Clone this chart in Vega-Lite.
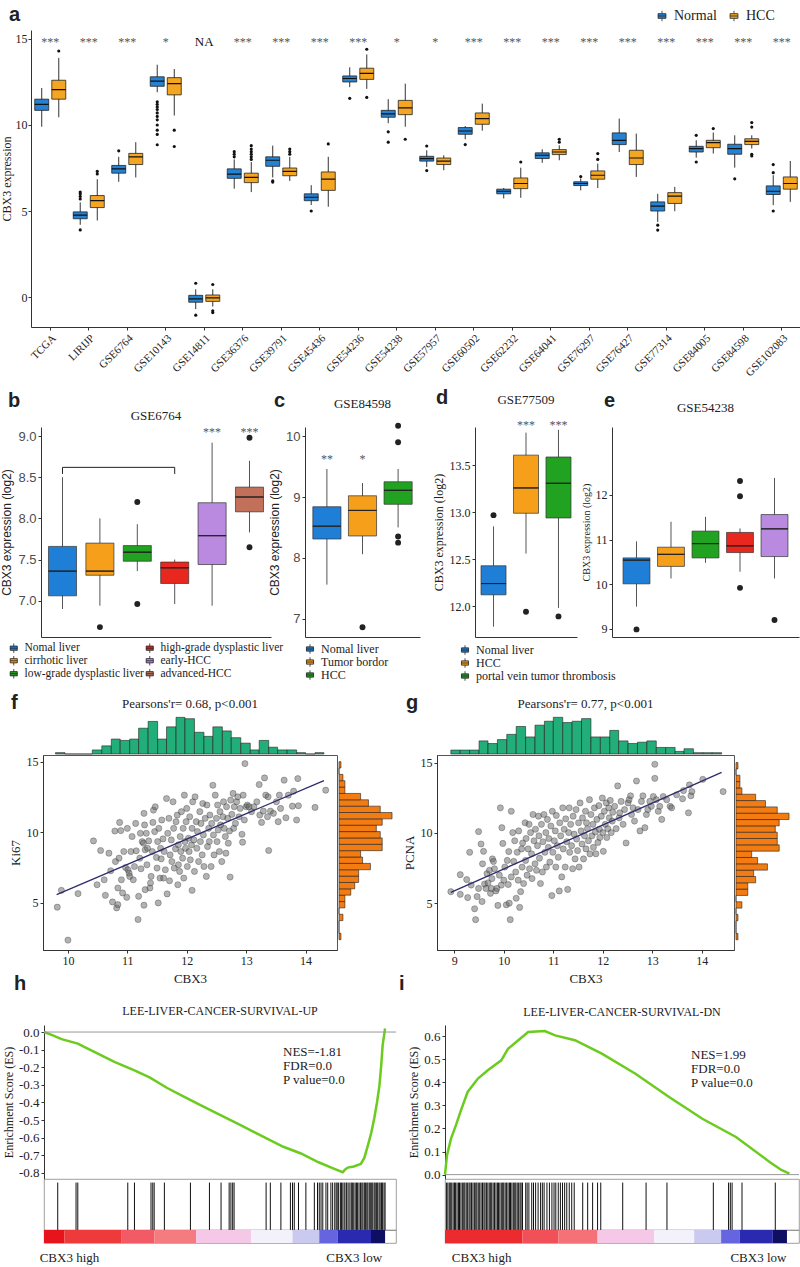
{
"$schema":"https://vega.github.io/schema/vega-lite/v6.json",
"background":"white",
"padding":{"left":0,"top":5,"right":0,"bottom":0},
"spacing":10,
"resolve":{"scale":{"color":"independent"},"legend":{"color":"independent"}},
"config":{
 "font":"Liberation Serif",
 "view":{"stroke":null},
 "axis":{"labelFont":"Liberation Serif","titleFont":"Liberation Serif","labelColor":"#222","titleColor":"#222","domainColor":"#333","tickColor":"#333","grid":false,"titleFontWeight":"normal","labelFontSize":12,"titleFontSize":12,"tickSize":3,"labelPadding":2,"titlePadding":4},
 "title":{"font":"Liberation Serif","fontWeight":"normal","fontSize":13,"color":"#222"},
 "legend":{"labelFont":"Liberation Serif","labelFontSize":12,"labelColor":"#222","symbolStrokeColor":"#222","symbolStrokeWidth":0.8,"symbolType":"M-0.75,-0.45H0.75V0.45H-0.75Z M0,-0.45V-1 M0,0.45V1 M-0.75,0H0.75","symbolSize":90,"rowPadding":-3,"labelOffset":5,"padding":0}
},
"datasets":{
 "aBox":[
{"d":"TCGA","g":"Normal","lo":9.9,"q1":10.85,"md":11.2,"q3":11.5,"hi":12.15},
{"d":"TCGA","g":"HCC","lo":10.45,"q1":11.5,"md":12.05,"q3":12.6,"hi":13.9},
{"d":"LIRIJP","g":"Normal","lo":4.2,"q1":4.55,"md":4.76,"q3":4.95,"hi":5.5},
{"d":"LIRIJP","g":"HCC","lo":4.45,"q1":5.2,"md":5.6,"q3":5.9,"hi":6.85},
{"d":"GSE6764","g":"Normal","lo":6.7,"q1":7.2,"md":7.45,"q3":7.65,"hi":8.15},
{"d":"GSE6764","g":"HCC","lo":6.95,"q1":7.7,"md":8.15,"q3":8.35,"hi":9.0},
{"d":"GSE10143","g":"Normal","lo":11.9,"q1":12.25,"md":12.55,"q3":12.8,"hi":13.5},
{"d":"GSE10143","g":"HCC","lo":10.55,"q1":11.75,"md":12.4,"q3":12.75,"hi":13.25},
{"d":"GSE14811","g":"Normal","lo":-0.7,"q1":-0.3,"md":-0.1,"q3":0.1,"hi":0.45},
{"d":"GSE14811","g":"HCC","lo":-0.55,"q1":-0.25,"md":-0.05,"q3":0.12,"hi":0.45},
{"d":"GSE36376","g":"Normal","lo":6.3,"q1":6.9,"md":7.15,"q3":7.45,"hi":8.0},
{"d":"GSE36376","g":"HCC","lo":6.1,"q1":6.65,"md":6.95,"q3":7.2,"hi":7.85},
{"d":"GSE39791","g":"Normal","lo":6.95,"q1":7.6,"md":7.95,"q3":8.15,"hi":8.8},
{"d":"GSE39791","g":"HCC","lo":6.75,"q1":7.05,"md":7.3,"q3":7.5,"hi":8.15},
{"d":"GSE45436","g":"Normal","lo":5.35,"q1":5.6,"md":5.8,"q3":6.0,"hi":6.5},
{"d":"GSE45436","g":"HCC","lo":5.25,"q1":6.2,"md":6.85,"q3":7.27,"hi":8.15},
{"d":"GSE54236","g":"Normal","lo":12.2,"q1":12.5,"md":12.7,"q3":12.85,"hi":13.35},
{"d":"GSE54236","g":"HCC","lo":12.1,"q1":12.65,"md":13.0,"q3":13.3,"hi":14.1},
{"d":"GSE54238","g":"Normal","lo":10.1,"q1":10.45,"md":10.65,"q3":10.85,"hi":11.5},
{"d":"GSE54238","g":"HCC","lo":9.9,"q1":10.6,"md":11.0,"q3":11.43,"hi":12.4},
{"d":"GSE57957","g":"Normal","lo":7.56,"q1":7.9,"md":8.05,"q3":8.18,"hi":8.53},
{"d":"GSE57957","g":"HCC","lo":7.37,"q1":7.7,"md":7.9,"q3":8.08,"hi":8.24},
{"d":"GSE60502","g":"Normal","lo":9.17,"q1":9.46,"md":9.65,"q3":9.85,"hi":9.94},
{"d":"GSE60502","g":"HCC","lo":9.67,"q1":10.04,"md":10.37,"q3":10.7,"hi":11.24},
{"d":"GSE62232","g":"Normal","lo":5.73,"q1":6.0,"md":6.15,"q3":6.27,"hi":6.34},
{"d":"GSE62232","g":"HCC","lo":5.77,"q1":6.3,"md":6.6,"q3":6.92,"hi":7.52},
{"d":"GSE64041","g":"Normal","lo":7.8,"q1":8.05,"md":8.24,"q3":8.38,"hi":8.59},
{"d":"GSE64041","g":"HCC","lo":7.95,"q1":8.28,"md":8.43,"q3":8.57,"hi":8.82},
{"d":"GSE76297","g":"Normal","lo":6.2,"q1":6.48,"md":6.6,"q3":6.7,"hi":6.89},
{"d":"GSE76297","g":"HCC","lo":6.34,"q1":6.85,"md":7.08,"q3":7.33,"hi":7.76},
{"d":"GSE76427","g":"Normal","lo":8.43,"q1":8.86,"md":9.11,"q3":9.54,"hi":10.37},
{"d":"GSE76427","g":"HCC","lo":6.98,"q1":7.7,"md":8.08,"q3":8.53,"hi":9.5},
{"d":"GSE77314","g":"Normal","lo":4.37,"q1":5.0,"md":5.28,"q3":5.53,"hi":6.0},
{"d":"GSE77314","g":"HCC","lo":4.99,"q1":5.44,"md":5.86,"q3":6.07,"hi":6.4},
{"d":"GSE84005","g":"Normal","lo":8.1,"q1":8.43,"md":8.63,"q3":8.76,"hi":9.11},
{"d":"GSE84005","g":"HCC","lo":8.34,"q1":8.68,"md":8.97,"q3":9.11,"hi":9.56},
{"d":"GSE84598","g":"Normal","lo":7.52,"q1":8.3,"md":8.63,"q3":8.88,"hi":9.4},
{"d":"GSE84598","g":"HCC","lo":8.63,"q1":8.86,"md":9.05,"q3":9.2,"hi":9.4},
{"d":"GSE102083","g":"Normal","lo":5.34,"q1":5.96,"md":6.15,"q3":6.46,"hi":7.08},
{"d":"GSE102083","g":"HCC","lo":5.53,"q1":6.27,"md":6.6,"q3":6.98,"hi":7.91}
 ],
 "aOut":[
{"d":"TCGA","g":"HCC","v":14.3},
{"d":"LIRIJP","g":"Normal","v":5.7},{"d":"LIRIJP","g":"Normal","v":5.85},{"d":"LIRIJP","g":"Normal","v":6.0},{"d":"LIRIJP","g":"Normal","v":6.1},{"d":"LIRIJP","g":"Normal","v":3.9},
{"d":"LIRIJP","g":"HCC","v":7.15},{"d":"LIRIJP","g":"HCC","v":7.3},
{"d":"GSE6764","g":"Normal","v":8.5},
{"d":"GSE10143","g":"Normal","v":11.35},{"d":"GSE10143","g":"Normal","v":11.2},{"d":"GSE10143","g":"Normal","v":11.05},{"d":"GSE10143","g":"Normal","v":10.9},{"d":"GSE10143","g":"Normal","v":10.7},{"d":"GSE10143","g":"Normal","v":10.5},{"d":"GSE10143","g":"Normal","v":10.3},{"d":"GSE10143","g":"Normal","v":10.0},{"d":"GSE10143","g":"Normal","v":9.7},{"d":"GSE10143","g":"Normal","v":9.45},{"d":"GSE10143","g":"Normal","v":8.85},
{"d":"GSE10143","g":"HCC","v":9.7},{"d":"GSE10143","g":"HCC","v":8.75},
{"d":"GSE14811","g":"Normal","v":0.8},{"d":"GSE14811","g":"Normal","v":-1.05},
{"d":"GSE14811","g":"HCC","v":0.73},{"d":"GSE14811","g":"HCC","v":-0.8},{"d":"GSE14811","g":"HCC","v":-0.9},
{"d":"GSE36376","g":"Normal","v":8.15},{"d":"GSE36376","g":"Normal","v":8.3},{"d":"GSE36376","g":"Normal","v":8.45},
{"d":"GSE36376","g":"HCC","v":8.0},{"d":"GSE36376","g":"HCC","v":8.15},{"d":"GSE36376","g":"HCC","v":8.3},{"d":"GSE36376","g":"HCC","v":8.45},{"d":"GSE36376","g":"HCC","v":8.6},{"d":"GSE36376","g":"HCC","v":8.8},
{"d":"GSE39791","g":"Normal","v":6.75},{"d":"GSE39791","g":"Normal","v":6.68},
{"d":"GSE39791","g":"HCC","v":8.3},{"d":"GSE39791","g":"HCC","v":8.45},{"d":"GSE39791","g":"HCC","v":8.6},
{"d":"GSE45436","g":"Normal","v":5.0},
{"d":"GSE45436","g":"HCC","v":8.9},
{"d":"GSE54236","g":"Normal","v":11.55},
{"d":"GSE54236","g":"HCC","v":14.4},{"d":"GSE54236","g":"HCC","v":11.6},
{"d":"GSE54238","g":"Normal","v":9.6},{"d":"GSE54238","g":"Normal","v":9.0},
{"d":"GSE54238","g":"HCC","v":9.17},
{"d":"GSE57957","g":"Normal","v":8.78},{"d":"GSE57957","g":"Normal","v":7.35},
{"d":"GSE60502","g":"Normal","v":8.86},
{"d":"GSE62232","g":"HCC","v":7.85},
{"d":"GSE64041","g":"HCC","v":9.0},{"d":"GSE64041","g":"HCC","v":9.17},
{"d":"GSE76297","g":"Normal","v":7.0},
{"d":"GSE76297","g":"HCC","v":8.0},{"d":"GSE76297","g":"HCC","v":8.34},
{"d":"GSE77314","g":"Normal","v":4.18},{"d":"GSE77314","g":"Normal","v":3.89},
{"d":"GSE84005","g":"Normal","v":9.4},{"d":"GSE84005","g":"Normal","v":7.85},
{"d":"GSE84005","g":"HCC","v":9.79},
{"d":"GSE84598","g":"Normal","v":6.87},
{"d":"GSE84598","g":"HCC","v":10.14},{"d":"GSE84598","g":"HCC","v":9.88},{"d":"GSE84598","g":"HCC","v":8.3},{"d":"GSE84598","g":"HCC","v":8.2},
{"d":"GSE102083","g":"Normal","v":7.23},{"d":"GSE102083","g":"Normal","v":7.7},{"d":"GSE102083","g":"Normal","v":5.0}
 ],
 "aSig":[
{"d":"TCGA","s":"***"},{"d":"LIRIJP","s":"***"},{"d":"GSE6764","s":"***"},{"d":"GSE10143","s":"*"},{"d":"GSE14811","s":"NA"},{"d":"GSE36376","s":"***"},{"d":"GSE39791","s":"***"},{"d":"GSE45436","s":"***"},{"d":"GSE54236","s":"***"},{"d":"GSE54238","s":"*"},{"d":"GSE57957","s":"*"},{"d":"GSE60502","s":"***"},{"d":"GSE62232","s":"***"},{"d":"GSE64041","s":"***"},{"d":"GSE76297","s":"***"},{"d":"GSE76427","s":"***"},{"d":"GSE77314","s":"***"},{"d":"GSE84005","s":"***"},{"d":"GSE84598","s":"***"},{"d":"GSE102083","s":"***"}
 ],
 "bBox":[
{"grp":"Nomal liver","lo":6.9,"q1":7.06,"md":7.36,"q3":7.66,"hi":8.5},
{"grp":"cirrhotic liver","lo":6.94,"q1":7.31,"md":7.36,"q3":7.7,"hi":8.0},
{"grp":"low-grade dysplastic liver","lo":7.36,"q1":7.48,"md":7.59,"q3":7.67,"hi":7.93},
{"grp":"high-grade dysplastic liver","lo":6.96,"q1":7.21,"md":7.4,"q3":7.47,"hi":7.5},
{"grp":"early-HCC","lo":6.94,"q1":7.44,"md":7.79,"q3":8.19,"hi":8.92},
{"grp":"advanced-HCC","lo":7.83,"q1":8.08,"md":8.26,"q3":8.38,"hi":8.7}
 ],
 "bOut":[{"grp":"cirrhotic liver","v":6.68},{"grp":"low-grade dysplastic liver","v":8.2},{"grp":"low-grade dysplastic liver","v":6.96},{"grp":"advanced-HCC","v":8.98},{"grp":"advanced-HCC","v":7.65}],
 "bSig":[{"grp":"early-HCC","s":"***"},{"grp":"advanced-HCC","s":"***"}],
 "cBox":[
{"grp":"Nomal liver","lo":7.56,"q1":8.31,"md":8.52,"q3":8.84,"hi":9.46},
{"grp":"Tumor bordor","lo":8.06,"q1":8.36,"md":8.78,"q3":9.02,"hi":9.23},
{"grp":"HCC","lo":8.5,"q1":8.88,"md":9.11,"q3":9.25,"hi":9.46}
 ],
 "cOut":[{"grp":"Tumor bordor","v":6.86},{"grp":"HCC","v":10.17},{"grp":"HCC","v":9.9},{"grp":"HCC","v":8.35},{"grp":"HCC","v":8.25}],
 "cSig":[{"grp":"Nomal liver","s":"**"},{"grp":"Tumor bordor","s":"*"}],
 "dBox":[
{"grp":"Nomal liver","lo":11.78,"q1":12.12,"md":12.24,"q3":12.43,"hi":12.85},
{"grp":"HCC","lo":12.56,"q1":12.99,"md":13.26,"q3":13.61,"hi":13.85},
{"grp":"portal vein tumor thrombosis","lo":11.98,"q1":12.94,"md":13.31,"q3":13.59,"hi":13.88}
 ],
 "dOut":[{"grp":"Nomal liver","v":12.97},{"grp":"HCC","v":11.94},{"grp":"portal vein tumor thrombosis","v":11.89}],
 "dSig":[{"grp":"HCC","s":"***"},{"grp":"portal vein tumor thrombosis","s":"***"}],
 "eBox":[
{"grp":"Nomal liver","lo":9.5,"q1":10.01,"md":10.54,"q3":10.59,"hi":10.96},
{"grp":"cirrhotic liver","lo":10.13,"q1":10.4,"md":10.67,"q3":10.83,"hi":11.4},
{"grp":"low-grade dysplastic liver","lo":10.48,"q1":10.59,"md":10.91,"q3":11.19,"hi":11.51},
{"grp":"high-grade dysplastic liver","lo":10.28,"q1":10.71,"md":10.86,"q3":11.16,"hi":11.25},
{"grp":"HCC","lo":10.13,"q1":10.62,"md":11.24,"q3":11.56,"hi":12.38}
 ],
 "eOut":[{"grp":"Nomal liver","v":8.99},{"grp":"high-grade dysplastic liver","v":12.31},{"grp":"high-grade dysplastic liver","v":11.97},{"grp":"high-grade dysplastic liver","v":9.92},{"grp":"HCC","v":9.2}],
 "fTop":[
{"s":9.79,"e":9.95,"n":1},{"s":9.95,"e":10.1,"n":0},{"s":10.1,"e":10.26,"n":0},{"s":10.26,"e":10.41,"n":0},{"s":10.41,"e":10.57,"n":3},{"s":10.57,"e":10.73,"n":6},{"s":10.73,"e":10.88,"n":11},{"s":10.88,"e":11.04,"n":10},{"s":11.04,"e":11.19,"n":11},{"s":11.19,"e":11.35,"n":19},{"s":11.35,"e":11.51,"n":24},{"s":11.51,"e":11.66,"n":11},{"s":11.66,"e":11.82,"n":20},{"s":11.82,"e":11.97,"n":27},{"s":11.97,"e":12.13,"n":26},{"s":12.13,"e":12.29,"n":16},{"s":12.29,"e":12.44,"n":13},{"s":12.44,"e":12.6,"n":20},{"s":12.6,"e":12.75,"n":17},{"s":12.75,"e":12.91,"n":12},{"s":12.91,"e":13.07,"n":8},{"s":13.07,"e":13.22,"n":3},{"s":13.22,"e":13.38,"n":10},{"s":13.38,"e":13.53,"n":5},{"s":13.53,"e":13.69,"n":3},{"s":13.69,"e":13.85,"n":3},{"s":13.85,"e":14.0,"n":1},{"s":14.0,"e":14.16,"n":0},{"s":14.16,"e":14.31,"n":1}
 ],
 "fRh":[
{"s":2.4,"e":2.85,"n":1},{"s":2.85,"e":3.3,"n":0},{"s":3.3,"e":3.75,"n":0},{"s":3.75,"e":4.2,"n":2},{"s":4.2,"e":4.65,"n":0},{"s":4.65,"e":5.1,"n":3},{"s":5.1,"e":5.55,"n":3},{"s":5.55,"e":6.0,"n":6},{"s":6.0,"e":6.45,"n":8},{"s":6.45,"e":6.9,"n":10},{"s":6.9,"e":7.35,"n":10},{"s":7.35,"e":7.8,"n":16},{"s":7.8,"e":8.25,"n":12},{"s":8.25,"e":8.7,"n":11},{"s":8.7,"e":9.15,"n":22},{"s":9.15,"e":9.6,"n":22},{"s":9.6,"e":10.05,"n":21},{"s":10.05,"e":10.5,"n":19},{"s":10.5,"e":10.95,"n":22},{"s":10.95,"e":11.4,"n":27},{"s":11.4,"e":11.85,"n":21},{"s":11.85,"e":12.3,"n":15},{"s":12.3,"e":12.75,"n":11},{"s":12.75,"e":13.2,"n":3},{"s":13.2,"e":13.65,"n":3},{"s":13.65,"e":14.1,"n":2},{"s":14.1,"e":14.55,"n":0},{"s":14.55,"e":15.0,"n":1}
 ],
 "gTop":[
{"s":8.93,"e":9.12,"n":3},{"s":9.12,"e":9.31,"n":3},{"s":9.31,"e":9.5,"n":3},{"s":9.5,"e":9.68,"n":10},{"s":9.68,"e":9.87,"n":8},{"s":9.87,"e":10.06,"n":11},{"s":10.06,"e":10.25,"n":15},{"s":10.25,"e":10.44,"n":21},{"s":10.44,"e":10.63,"n":13},{"s":10.63,"e":10.82,"n":22},{"s":10.82,"e":11.0,"n":25},{"s":11.0,"e":11.19,"n":28},{"s":11.19,"e":11.38,"n":24},{"s":11.38,"e":11.57,"n":25},{"s":11.57,"e":11.76,"n":27},{"s":11.76,"e":11.95,"n":13},{"s":11.95,"e":12.14,"n":13},{"s":12.14,"e":12.32,"n":18},{"s":12.32,"e":12.51,"n":10},{"s":12.51,"e":12.7,"n":8},{"s":12.7,"e":12.89,"n":9},{"s":12.89,"e":13.08,"n":10},{"s":13.08,"e":13.27,"n":5},{"s":13.27,"e":13.46,"n":5},{"s":13.46,"e":13.64,"n":2},{"s":13.64,"e":13.83,"n":4},{"s":13.83,"e":14.02,"n":1},{"s":14.02,"e":14.21,"n":1},{"s":14.21,"e":14.4,"n":1}
 ],
 "gRh":[
{"s":2.4,"e":2.85,"n":1},{"s":2.85,"e":3.3,"n":0},{"s":3.3,"e":3.75,"n":0},{"s":3.75,"e":4.2,"n":1},{"s":4.2,"e":4.65,"n":0},{"s":4.65,"e":5.1,"n":3},{"s":5.1,"e":5.55,"n":0},{"s":5.55,"e":6.0,"n":6},{"s":6.0,"e":6.45,"n":6},{"s":6.45,"e":6.9,"n":10},{"s":6.9,"e":7.35,"n":9},{"s":7.35,"e":7.8,"n":16},{"s":7.8,"e":8.25,"n":11},{"s":8.25,"e":8.7,"n":8},{"s":8.7,"e":9.15,"n":22},{"s":9.15,"e":9.6,"n":21},{"s":9.6,"e":10.05,"n":21},{"s":10.05,"e":10.5,"n":20},{"s":10.5,"e":10.95,"n":22},{"s":10.95,"e":11.4,"n":27},{"s":11.4,"e":11.85,"n":21},{"s":11.85,"e":12.3,"n":15},{"s":12.3,"e":12.75,"n":10},{"s":12.75,"e":13.2,"n":3},{"s":13.2,"e":13.65,"n":2},{"s":13.65,"e":14.1,"n":2},{"s":14.1,"e":14.55,"n":0},{"s":14.55,"e":15.0,"n":1}
 ],
 "fLine":[{"c":9.81,"k":5.59},{"c":14.31,"k":13.66}],
 "gLine":[{"c":8.93,"p":5.77},{"c":14.4,"p":14.3}],
 "fPts":[
{"c":9.82,"k":4.7},{"c":10.0,"k":2.37},{"c":9.89,"k":5.89},{"c":10.17,"k":5.66},{"c":10.43,"k":9.39},{"c":10.49,"k":6.29},{"c":10.55,"k":8.71},{"c":10.61,"k":6.64},{"c":10.63,"k":5.54},{"c":10.69,"k":8.52},{"c":10.72,"k":7.28},{"c":10.75,"k":5.07},{"c":10.79,"k":10.09},{"c":10.8,"k":7.93},{"c":10.82,"k":4.65},{"c":10.84,"k":4.88},{"c":10.84,"k":6.06},{"c":10.86,"k":8.17},{"c":10.87,"k":10.7},{"c":10.89,"k":10.12},{"c":10.9,"k":6.64},{"c":10.92,"k":5.71},{"c":10.94,"k":8.64},{"c":10.97,"k":7.51},{"c":10.99,"k":5.4},{"c":11.0,"k":10.28},{"c":11.01,"k":7.35},{"c":11.03,"k":7.11},{"c":11.04,"k":6.88},{"c":11.06,"k":8.64},{"c":11.08,"k":9.7},{"c":11.1,"k":6.64},{"c":11.12,"k":7.58},{"c":11.14,"k":10.63},{"c":11.15,"k":8.69},{"c":11.18,"k":3.83},{"c":11.19,"k":5.47},{"c":11.21,"k":8.17},{"c":11.22,"k":9.93},{"c":11.23,"k":7.42},{"c":11.25,"k":9.34},{"c":11.27,"k":9.23},{"c":11.28,"k":4.84},{"c":11.28,"k":11.34},{"c":11.29,"k":10.52},{"c":11.3,"k":8.76},{"c":11.3,"k":5.94},{"c":11.32,"k":9.93},{"c":11.33,"k":7.7},{"c":11.34,"k":8.87},{"c":11.36,"k":9.39},{"c":11.38,"k":6.06},{"c":11.39,"k":6.41},{"c":11.4,"k":6.88},{"c":11.42,"k":8.64},{"c":11.43,"k":10.7},{"c":11.44,"k":11.57},{"c":11.46,"k":10.05},{"c":11.47,"k":11.81},{"c":11.49,"k":8.22},{"c":11.5,"k":7.47},{"c":11.51,"k":9.34},{"c":11.52,"k":5.0},{"c":11.53,"k":10.28},{"c":11.55,"k":6.76},{"c":11.56,"k":8.87},{"c":11.57,"k":8.12},{"c":11.58,"k":10.87},{"c":11.6,"k":9.53},{"c":11.61,"k":6.76},{"c":11.62,"k":8.64},{"c":11.64,"k":7.35},{"c":11.66,"k":12.39},{"c":11.67,"k":5.64},{"c":11.68,"k":9.93},{"c":11.7,"k":10.99},{"c":11.71,"k":6.57},{"c":11.72,"k":8.4},{"c":11.74,"k":9.46},{"c":11.75,"k":7.93},{"c":11.77,"k":12.16},{"c":11.78,"k":10.28},{"c":11.79,"k":7.47},{"c":11.81,"k":8.83},{"c":11.82,"k":10.75},{"c":11.84,"k":11.22},{"c":11.85,"k":6.29},{"c":11.86,"k":9.11},{"c":11.86,"k":7.7},{"c":11.88,"k":7.23},{"c":11.89,"k":9.7},{"c":11.9,"k":8.64},{"c":11.91,"k":11.46},{"c":11.93,"k":8.17},{"c":11.94,"k":10.28},{"c":11.95,"k":6.76},{"c":11.96,"k":12.63},{"c":11.97,"k":9.34},{"c":11.98,"k":8.87},{"c":11.99,"k":10.75},{"c":12.0,"k":11.69},{"c":12.01,"k":7.58},{"c":12.03,"k":9.58},{"c":12.04,"k":8.64},{"c":12.05,"k":11.1},{"c":12.06,"k":8.05},{"c":12.08,"k":9.11},{"c":12.09,"k":5.89},{"c":12.09,"k":10.28},{"c":12.1,"k":12.16},{"c":12.12,"k":9.46},{"c":12.13,"k":7.23},{"c":12.14,"k":12.51},{"c":12.16,"k":10.75},{"c":12.17,"k":8.87},{"c":12.18,"k":10.05},{"c":12.2,"k":7.93},{"c":12.22,"k":11.46},{"c":12.23,"k":9.34},{"c":12.24,"k":10.63},{"c":12.26,"k":8.4},{"c":12.27,"k":12.04},{"c":12.28,"k":9.81},{"c":12.29,"k":7.58},{"c":12.31,"k":10.99},{"c":12.33,"k":6.88},{"c":12.34,"k":11.93},{"c":12.35,"k":8.99},{"c":12.37,"k":10.28},{"c":12.38,"k":9.34},{"c":12.39,"k":11.22},{"c":12.41,"k":7.58},{"c":12.42,"k":10.63},{"c":12.44,"k":13.33},{"c":12.45,"k":9.81},{"c":12.46,"k":8.4},{"c":12.48,"k":12.63},{"c":12.5,"k":10.99},{"c":12.51,"k":9.34},{"c":12.52,"k":11.93},{"c":12.53,"k":10.16},{"c":12.55,"k":8.64},{"c":12.56,"k":11.46},{"c":12.57,"k":10.52},{"c":12.59,"k":7.93},{"c":12.61,"k":11.1},{"c":12.62,"k":12.16},{"c":12.63,"k":10.28},{"c":12.65,"k":9.7},{"c":12.66,"k":8.52},{"c":12.67,"k":11.81},{"c":12.69,"k":10.99},{"c":12.7,"k":9.23},{"c":12.72,"k":10.09},{"c":12.73,"k":6.83},{"c":12.74,"k":12.28},{"c":12.76,"k":11.27},{"c":12.78,"k":12.75},{"c":12.79,"k":10.28},{"c":12.8,"k":11.81},{"c":12.82,"k":10.63},{"c":12.84,"k":12.16},{"c":12.86,"k":12.51},{"c":12.88,"k":11.1},{"c":12.9,"k":11.69},{"c":12.93,"k":9.86},{"c":12.94,"k":9.3},{"c":12.95,"k":12.63},{"c":12.97,"k":10.87},{"c":12.98,"k":14.86},{"c":13.0,"k":11.81},{"c":13.02,"k":11.93},{"c":13.05,"k":11.81},{"c":13.09,"k":11.46},{"c":13.13,"k":11.81},{"c":13.18,"k":12.16},{"c":13.22,"k":13.38},{"c":13.23,"k":11.22},{"c":13.26,"k":10.7},{"c":13.29,"k":11.5},{"c":13.31,"k":13.85},{"c":13.33,"k":12.63},{"c":13.36,"k":11.1},{"c":13.37,"k":12.51},{"c":13.38,"k":8.71},{"c":13.41,"k":11.5},{"c":13.46,"k":11.34},{"c":13.51,"k":12.16},{"c":13.54,"k":10.75},{"c":13.56,"k":12.63},{"c":13.58,"k":11.69},{"c":13.64,"k":13.69},{"c":13.67,"k":11.03},{"c":13.71,"k":12.63},{"c":13.78,"k":11.85},{"c":13.8,"k":12.91},{"c":13.85,"k":10.87},{"c":13.87,"k":13.8},{"c":13.88,"k":11.88},{"c":14.16,"k":11.76},{"c":14.34,"k":12.98}
 ],
 "gPts":[
{"c":8.93,"p":5.82},{"c":9.12,"p":7.03},{"c":9.12,"p":5.63},{"c":9.27,"p":5.4},{"c":9.25,"p":6.68},{"c":9.31,"p":8.62},{"c":9.34,"p":6.29},{"c":9.41,"p":4.6},{"c":9.43,"p":3.83},{"c":9.46,"p":5.47},{"c":9.49,"p":10.09},{"c":9.49,"p":6.05},{"c":9.54,"p":9.21},{"c":9.56,"p":5.12},{"c":9.57,"p":7.8},{"c":9.59,"p":8.69},{"c":9.61,"p":6.36},{"c":9.64,"p":6.05},{"c":9.66,"p":7.1},{"c":9.68,"p":6.45},{"c":9.71,"p":7.34},{"c":9.73,"p":5.7},{"c":9.75,"p":6.05},{"c":9.76,"p":6.75},{"c":9.77,"p":8.15},{"c":9.79,"p":7.97},{"c":9.81,"p":7.45},{"c":9.84,"p":5.87},{"c":9.86,"p":6.05},{"c":9.88,"p":4.84},{"c":9.91,"p":6.99},{"c":9.93,"p":11.78},{"c":9.95,"p":6.29},{"c":9.96,"p":10.37},{"c":9.98,"p":9.25},{"c":10.0,"p":6.64},{"c":10.02,"p":7.57},{"c":10.05,"p":4.88},{"c":10.07,"p":8.04},{"c":10.09,"p":6.33},{"c":10.1,"p":8.67},{"c":10.11,"p":5.0},{"c":10.13,"p":3.83},{"c":10.15,"p":11.54},{"c":10.15,"p":6.87},{"c":10.18,"p":10.02},{"c":10.2,"p":7.97},{"c":10.22,"p":9.44},{"c":10.24,"p":7.22},{"c":10.25,"p":5.35},{"c":10.27,"p":8.62},{"c":10.29,"p":6.64},{"c":10.3,"p":10.14},{"c":10.32,"p":4.7},{"c":10.34,"p":5.82},{"c":10.36,"p":8.86},{"c":10.37,"p":7.57},{"c":10.38,"p":9.28},{"c":10.4,"p":6.4},{"c":10.43,"p":10.72},{"c":10.44,"p":8.04},{"c":10.45,"p":9.6},{"c":10.47,"p":6.99},{"c":10.49,"p":8.86},{"c":10.51,"p":10.61},{"c":10.52,"p":7.45},{"c":10.54,"p":10.02},{"c":10.56,"p":8.51},{"c":10.57,"p":6.75},{"c":10.59,"p":11.31},{"c":10.61,"p":9.44},{"c":10.63,"p":7.8},{"c":10.64,"p":10.26},{"c":10.66,"p":7.34},{"c":10.68,"p":9.09},{"c":10.7,"p":11.19},{"c":10.71,"p":9.79},{"c":10.72,"p":8.2},{"c":10.74,"p":6.4},{"c":10.76,"p":10.61},{"c":10.78,"p":7.22},{"c":10.79,"p":9.37},{"c":10.81,"p":11.31},{"c":10.83,"p":8.62},{"c":10.85,"p":10.02},{"c":10.86,"p":7.57},{"c":10.88,"p":10.96},{"c":10.9,"p":8.97},{"c":10.91,"p":9.6},{"c":10.93,"p":7.92},{"c":10.95,"p":10.49},{"c":10.97,"p":5.54},{"c":10.98,"p":11.54},{"c":10.99,"p":8.62},{"c":11.02,"p":9.44},{"c":11.04,"p":10.14},{"c":11.05,"p":7.57},{"c":11.06,"p":11.24},{"c":11.08,"p":9.09},{"c":11.1,"p":8.27},{"c":11.12,"p":5.87},{"c":11.13,"p":10.72},{"c":11.15,"p":9.79},{"c":11.17,"p":6.87},{"c":11.19,"p":11.78},{"c":11.2,"p":8.86},{"c":11.22,"p":10.26},{"c":11.24,"p":7.57},{"c":11.25,"p":11.0},{"c":11.27,"p":9.37},{"c":11.29,"p":5.98},{"c":11.31,"p":10.02},{"c":11.32,"p":11.78},{"c":11.33,"p":8.62},{"c":11.35,"p":10.61},{"c":11.37,"p":9.09},{"c":11.39,"p":7.45},{"c":11.4,"p":11.19},{"c":11.42,"p":9.91},{"c":11.44,"p":8.15},{"c":11.46,"p":11.66},{"c":11.47,"p":9.56},{"c":11.49,"p":8.74},{"c":11.51,"p":10.72},{"c":11.52,"p":7.57},{"c":11.54,"p":12.13},{"c":11.56,"p":10.14},{"c":11.58,"p":9.21},{"c":11.59,"p":11.07},{"c":11.61,"p":8.15},{"c":11.63,"p":9.79},{"c":11.65,"p":11.54},{"c":11.66,"p":8.86},{"c":11.67,"p":10.72},{"c":11.69,"p":10.3},{"c":11.71,"p":9.44},{"c":11.73,"p":12.36},{"c":11.74,"p":8.51},{"c":11.76,"p":11.31},{"c":11.78,"p":9.79},{"c":11.8,"p":10.61},{"c":11.81,"p":8.97},{"c":11.83,"p":11.78},{"c":11.85,"p":10.07},{"c":11.86,"p":8.51},{"c":11.88,"p":10.96},{"c":11.9,"p":9.32},{"c":11.92,"p":11.94},{"c":11.93,"p":10.26},{"c":11.94,"p":9.67},{"c":11.97,"p":11.19},{"c":11.99,"p":12.48},{"c":12.0,"p":10.02},{"c":12.01,"p":8.69},{"c":12.03,"p":11.54},{"c":12.05,"p":10.61},{"c":12.07,"p":12.13},{"c":12.08,"p":9.67},{"c":12.1,"p":10.3},{"c":12.12,"p":11.78},{"c":12.13,"p":11.07},{"c":12.15,"p":12.31},{"c":12.17,"p":10.02},{"c":12.19,"p":10.84},{"c":12.2,"p":11.47},{"c":12.24,"p":11.89},{"c":12.27,"p":10.3},{"c":12.3,"p":13.34},{"c":12.33,"p":11.07},{"c":12.34,"p":11.43},{"c":12.37,"p":12.24},{"c":12.41,"p":10.61},{"c":12.44,"p":11.66},{"c":12.47,"p":9.28},{"c":12.51,"p":12.13},{"c":12.53,"p":12.36},{"c":12.56,"p":12.64},{"c":12.58,"p":11.31},{"c":12.61,"p":11.78},{"c":12.64,"p":10.84},{"c":12.68,"p":13.69},{"c":12.71,"p":11.66},{"c":12.75,"p":10.14},{"c":12.78,"p":12.24},{"c":12.81,"p":12.64},{"c":12.85,"p":10.37},{"c":12.88,"p":11.31},{"c":12.91,"p":11.66},{"c":12.95,"p":12.24},{"c":12.98,"p":11.89},{"c":13.02,"p":12.59},{"c":13.05,"p":14.88},{"c":13.05,"p":13.88},{"c":13.08,"p":12.36},{"c":13.12,"p":11.54},{"c":13.15,"p":11.89},{"c":13.19,"p":10.96},{"c":13.22,"p":12.59},{"c":13.29,"p":12.36},{"c":13.36,"p":11.89},{"c":13.39,"p":11.78},{"c":13.49,"p":12.71},{"c":13.61,"p":12.43},{"c":13.63,"p":13.01},{"c":13.73,"p":11.43},{"c":13.75,"p":13.41},{"c":13.78,"p":12.64},{"c":13.8,"p":12.94},{"c":14.02,"p":13.81},{"c":14.43,"p":12.94}
 ],
 "hCurve":[{"r":0,"es":0},{"r":2,"es":-0.015},{"r":5,"es":-0.04},{"r":9.6,"es":-0.066},{"r":12,"es":-0.09},{"r":15,"es":-0.12},{"r":20,"es":-0.17},{"r":25.7,"es":-0.218},{"r":30,"es":-0.258},{"r":35,"es":-0.318},{"r":40,"es":-0.37},{"r":44.6,"es":-0.417},{"r":50,"es":-0.47},{"r":55,"es":-0.52},{"r":60,"es":-0.572},{"r":63.5,"es":-0.607},{"r":68,"es":-0.652},{"r":73,"es":-0.69},{"r":78,"es":-0.74},{"r":82.5,"es":-0.777},{"r":84.9,"es":-0.796},{"r":85.5,"es":-0.782},{"r":86.3,"es":-0.77},{"r":88,"es":-0.764},{"r":90,"es":-0.749},{"r":91,"es":-0.715},{"r":92,"es":-0.645},{"r":93,"es":-0.57},{"r":93.8,"es":-0.493},{"r":94.6,"es":-0.4},{"r":95.3,"es":-0.303},{"r":95.8,"es":-0.19},{"r":96.2,"es":-0.076},{"r":96.6,"es":-0.02},{"r":96.9,"es":0.02}],
 "iCurve":[{"r":0,"es":0},{"r":0.57,"es":0.084},{"r":1.7,"es":0.156},{"r":3.1,"es":0.214},{"r":4.5,"es":0.278},{"r":6.4,"es":0.358},{"r":9.3,"es":0.416},{"r":12.1,"es":0.452},{"r":15.9,"es":0.495},{"r":17.8,"es":0.545},{"r":20.7,"es":0.582},{"r":23.5,"es":0.618},{"r":28.2,"es":0.622},{"r":31.1,"es":0.603},{"r":36.7,"es":0.582},{"r":44.3,"es":0.524},{"r":53.8,"es":0.437},{"r":63.3,"es":0.336},{"r":72.7,"es":0.242},{"r":82.2,"es":0.163},{"r":91.7,"es":0.055},{"r":95,"es":0.02},{"r":97.3,"es":0.004}],
 "hHits":[{"r":3.9},{"r":9.1},{"r":9.6},{"r":23.8},{"r":25.7},{"r":30.4},{"r":30.9},{"r":31.3},{"r":34.2},{"r":41.6},{"r":47.0},{"r":50.3},{"r":52.6},{"r":53.1},{"r":53.6},{"r":54.0},{"r":63.1},{"r":64.3},{"r":67.3},{"r":70.0},{"r":70.6},{"r":71.1},{"r":72.3},{"r":74.4},{"r":76.8},{"r":77.7},{"r":78.2},{"r":78.7},{"r":79.2},{"r":80.1},{"r":80.6},{"r":81.5},{"r":82.0},{"r":82.6},{"r":83.0},{"r":83.3},{"r":83.7},{"r":84.2},{"r":84.5},{"r":84.9},{"r":85.3},{"r":85.8},{"r":86.0},{"r":86.4},{"r":86.9},{"r":87.3},{"r":87.6},{"r":88.0},{"r":88.4},{"r":88.8},{"r":89.1},{"r":89.5},{"r":89.9},{"r":90.3},{"r":90.6},{"r":91.0},{"r":91.3},{"r":91.7},{"r":92.0},{"r":92.4},{"r":92.7},{"r":93.1},{"r":93.4},{"r":93.8},{"r":94.1},{"r":94.5},{"r":94.8},{"r":95.2},{"r":95.5},{"r":95.9},{"r":96.2},{"r":96.6},{"r":96.9}],
 "iHits":[{"r":0.4},{"r":0.8},{"r":1.2},{"r":1.5},{"r":1.9},{"r":2.3},{"r":2.7},{"r":3.0},{"r":3.4},{"r":3.8},{"r":4.1},{"r":4.5},{"r":4.9},{"r":5.3},{"r":5.6},{"r":6.0},{"r":6.4},{"r":6.8},{"r":7.1},{"r":7.5},{"r":7.9},{"r":8.3},{"r":8.7},{"r":9.0},{"r":9.4},{"r":9.8},{"r":10.2},{"r":10.6},{"r":11.0},{"r":11.3},{"r":11.7},{"r":12.1},{"r":12.5},{"r":12.9},{"r":13.2},{"r":13.6},{"r":14.0},{"r":14.4},{"r":14.8},{"r":15.1},{"r":15.5},{"r":15.9},{"r":16.3},{"r":16.6},{"r":17.0},{"r":17.4},{"r":17.8},{"r":18.2},{"r":18.5},{"r":18.9},{"r":19.3},{"r":19.7},{"r":20.0},{"r":20.4},{"r":20.8},{"r":21.2},{"r":21.5},{"r":21.9},{"r":22.8},{"r":23.2},{"r":23.7},{"r":24.5},{"r":25.0},{"r":25.6},{"r":26.3},{"r":27.0},{"r":27.5},{"r":28.0},{"r":28.8},{"r":29.5},{"r":30.2},{"r":30.8},{"r":31.3},{"r":32.0},{"r":32.6},{"r":33.2},{"r":33.8},{"r":34.4},{"r":35.1},{"r":35.8},{"r":36.5},{"r":38.9},{"r":40.3},{"r":41.7},{"r":43.1},{"r":44.0},{"r":50.2},{"r":56.8},{"r":62.7},{"r":75.8},{"r":80.1},{"r":80.6},{"r":81.1},{"r":83.9},{"r":93.3}],
 "hBar":[{"s":0,"e":5.8,"sc":1},{"s":5.8,"e":21.9,"sc":0.85},{"s":21.9,"e":31.4,"sc":0.7},{"s":31.4,"e":43.2,"sc":0.55},{"s":43.2,"e":58.8,"sc":0.3},{"s":58.8,"e":70.6,"sc":0.05},{"s":70.6,"e":78.2,"sc":-0.3},{"s":78.2,"e":83.4,"sc":-0.6},{"s":83.4,"e":92.9,"sc":-0.8},{"s":92.9,"e":96.9,"sc":-1}],
 "iBar":[{"s":0,"e":21.9,"sc":0.92},{"s":21.9,"e":32,"sc":0.75},{"s":32,"e":43.1,"sc":0.6},{"s":43.1,"e":59.1,"sc":0.3},{"s":59.1,"e":70.4,"sc":0.05},{"s":70.4,"e":78,"sc":-0.3},{"s":78,"e":83.2,"sc":-0.6},{"s":83.2,"e":92.6,"sc":-0.8},{"s":92.6,"e":96.6,"sc":-1}]
},
"vconcat":[
 {
  "width":770,"height":297,
  "title":{"text":"a","anchor":"start","frame":"group","dx":-22,"dy":20,"offset":4,"font":"Liberation Sans","fontWeight":"bold","fontSize":20},
  "layer":[
   {"data":{"name":"aBox"},"mark":{"type":"rule","color":"#333","strokeWidth":1},
    "encoding":{
     "x":{"field":"d","type":"nominal","title":null,"scale":{"domain":["TCGA","LIRIJP","GSE6764","GSE10143","GSE14811","GSE36376","GSE39791","GSE45436","GSE54236","GSE54238","GSE57957","GSE60502","GSE62232","GSE64041","GSE76297","GSE76427","GSE77314","GSE84005","GSE84598","GSE102083"],"paddingInner":0,"paddingOuter":0},"axis":{"labelAngle":-45,"labelFontSize":11,"tickSize":3,"labelPadding":2}},
     "xOffset":{"field":"g","type":"nominal","scale":{"domain":["Normal","HCC"],"paddingInner":0.18,"paddingOuter":0.22}},
     "y":{"field":"lo","type":"quantitative","title":"CBX3 expression","scale":{"domain":[-1.74,15.52],"nice":false,"zero":false},"axis":{"values":[0,5,10,15],"format":"d","labelFontSize":12,"labelPadding":1,"titleFontSize":12,"titlePadding":2}},
     "y2":{"field":"hi"}}},
   {"data":{"name":"aBox"},"mark":{"type":"bar","stroke":"#222","strokeWidth":0.8},
    "encoding":{
     "x":{"field":"d","type":"nominal"},
     "xOffset":{"field":"g","type":"nominal"},
     "y":{"field":"q1","type":"quantitative"},"y2":{"field":"q3"},
     "color":{"field":"g","type":"nominal","scale":{"domain":["Normal","HCC"],"range":["#2382D4","#F4A622"]},"legend":{"title":null,"orient":"none","legendX":624,"legendY":-21,"direction":"horizontal","labelFontSize":14,"symbolSize":110,"columnPadding":10}}}},
   {"data":{"name":"aBox"},"mark":{"type":"bar","fillOpacity":0,"stroke":"#111","strokeWidth":1.2},
    "encoding":{"x":{"field":"d","type":"nominal"},"xOffset":{"field":"g","type":"nominal"},"y":{"field":"md","type":"quantitative"},"y2":{"field":"md"}}},
   {"data":{"name":"aOut"},"mark":{"type":"point","filled":true,"color":"#111","size":10,"opacity":1},
    "encoding":{"x":{"field":"d","type":"nominal"},"xOffset":{"field":"g","type":"nominal"},"y":{"field":"v","type":"quantitative"}}},
   {"data":{"name":"aSig"},"mark":{"type":"text","baseline":"middle","dy":3,"font":"Liberation Serif"},
    "encoding":{"x":{"field":"d","type":"nominal"},"y":{"datum":15},"text":{"field":"s"},
     "color":{"condition":{"test":"datum.s==='NA'","value":"#111"},"value":"#555"},
     "size":{"condition":{"test":"datum.s==='NA'","value":13},"value":12}}}
  ]
 },
 {
  "hconcat":[
   {"width":10,"height":210,"data":{"values":[]},"mark":"point","title":{"text":"b","anchor":"start","frame":"group","dx":-23,"offset":16,"font":"Liberation Sans","fontWeight":"bold","fontSize":20}},
   {"width":230,"height":210,"title":{"text":"GSE6764","offset":3},
    "layer":[
     {"data":{"name":"bBox"},"mark":{"type":"rule","color":"#555"},
      "encoding":{
       "x":{"field":"grp","type":"nominal","title":null,"scale":{"domain":["Nomal liver","cirrhotic liver","low-grade dysplastic liver","high-grade dysplastic liver","early-HCC","advanced-HCC"],"paddingInner":0.25,"paddingOuter":0.2},"axis":{"labels":false,"ticks":false}},
       "y":{"field":"lo","type":"quantitative","title":"CBX3  expression (log2)","scale":{"domain":[6.56,9.11],"nice":false,"zero":false},"axis":{"values":[7,7.5,8,8.5,9],"tickCount":10,"format":".1f","labelFont":"Liberation Sans","labelFontSize":13,"labelColor":"#4d4d4d","titleFont":"Liberation Sans","titleFontSize":12}},
       "y2":{"field":"hi"}}},
     {"data":{"name":"bBox"},"mark":{"type":"bar","stroke":"#333","strokeWidth":0.7},
      "encoding":{"x":{"field":"grp","type":"nominal"},"y":{"field":"q1","type":"quantitative"},"y2":{"field":"q3"},
       "color":{"field":"grp","type":"nominal","scale":{"domain":["Nomal liver","high-grade dysplastic liver","cirrhotic liver","early-HCC","low-grade dysplastic liver","advanced-HCC"],"range":["#1F7ED6","#E8271E","#F59F1A","#B98AE0","#21A321","#C2705A"]},
        "legend":{"title":null,"orient":"none","legendX":-33,"legendY":215,"columns":2,"direction":"horizontal","columnPadding":0,"labelFontSize":11.5}}}},
     {"data":{"name":"bBox"},"mark":{"type":"bar","fillOpacity":0,"stroke":"#222","strokeWidth":1},
      "encoding":{"x":{"field":"grp","type":"nominal"},"y":{"field":"md","type":"quantitative"},"y2":{"field":"md"}}},
     {"data":{"name":"bOut"},"mark":{"type":"circle","color":"#222","size":35,"opacity":1},
      "encoding":{"x":{"field":"grp","type":"nominal"},"y":{"field":"v","type":"quantitative"}}},
     {"data":{"name":"bSig"},"mark":{"type":"text","color":"#555","fontSize":12,"baseline":"middle","dy":3},
      "encoding":{"x":{"field":"grp","type":"nominal"},"y":{"datum":9.09},"text":{"field":"s"}}},
     {"data":{"values":[{"grp":"Nomal liver","b":"high-grade dysplastic liver"}]},"mark":{"type":"rule","color":"#222"},
      "encoding":{"x":{"field":"grp","type":"nominal"},"x2":{"field":"b"},"y":{"datum":8.62}}},
     {"data":{"values":[{"grp":"Nomal liver"},{"grp":"high-grade dysplastic liver"}]},"mark":{"type":"rule","color":"#222"},
      "encoding":{"x":{"field":"grp","type":"nominal"},"y":{"datum":8.54},"y2":{"datum":8.62}}}
    ]},
   {"width":34,"height":210,"data":{"values":[]},"mark":"point","title":{"text":"c","anchor":"start","frame":"group","dx":3,"offset":16,"font":"Liberation Sans","fontWeight":"bold","fontSize":20}},
   {"width":115,"height":210,"title":{"text":"GSE84598","offset":12},
    "layer":[
     {"data":{"name":"cBox"},"mark":{"type":"rule","color":"#555"},
      "encoding":{
       "x":{"field":"grp","type":"nominal","title":null,"scale":{"domain":["Nomal liver","Tumor bordor","HCC"],"paddingInner":0.21,"paddingOuter":0.22},"axis":{"labels":false,"ticks":false}},
       "y":{"field":"lo","type":"quantitative","title":"CBX3  expression (log2)","scale":{"domain":[6.7,10.15],"nice":false,"zero":false},"axis":{"values":[7,8,9,10],"format":"d","labelFont":"Liberation Sans","labelFontSize":13,"labelColor":"#4d4d4d","titleFont":"Liberation Sans","titleFontSize":12}},
       "y2":{"field":"hi"}}},
     {"data":{"name":"cBox"},"mark":{"type":"bar","stroke":"#333","strokeWidth":0.7},
      "encoding":{"x":{"field":"grp","type":"nominal"},"y":{"field":"q1","type":"quantitative"},"y2":{"field":"q3"},
       "color":{"field":"grp","type":"nominal","scale":{"domain":["Nomal liver","Tumor bordor","HCC"],"range":["#1F7ED6","#F59F1A","#21A321"]},
        "legend":{"title":null,"orient":"none","legendX":-1,"legendY":216,"direction":"vertical"}}}},
     {"data":{"name":"cBox"},"mark":{"type":"bar","fillOpacity":0,"stroke":"#222","strokeWidth":1},
      "encoding":{"x":{"field":"grp","type":"nominal"},"y":{"field":"md","type":"quantitative"},"y2":{"field":"md"}}},
     {"data":{"name":"cOut"},"mark":{"type":"circle","color":"#222","size":35,"opacity":1},
      "encoding":{"x":{"field":"grp","type":"nominal"},"y":{"field":"v","type":"quantitative"}}},
     {"data":{"name":"cSig"},"mark":{"type":"text","color":"#555","fontSize":12,"baseline":"middle","dy":3},
      "encoding":{"x":{"field":"grp","type":"nominal"},"y":{"datum":9.68},"text":{"field":"s"}}}
    ]},
   {"width":55,"height":210,"data":{"values":[]},"mark":"point","title":{"text":"d","anchor":"start","frame":"group","dx":16,"offset":19,"font":"Liberation Sans","fontWeight":"bold","fontSize":20}},
   {"width":102,"height":210,"title":{"text":"GSE77509","offset":12},
    "layer":[
     {"data":{"name":"dBox"},"mark":{"type":"rule","color":"#555"},
      "encoding":{
       "x":{"field":"grp","type":"nominal","title":null,"scale":{"domain":["Nomal liver","HCC","portal vein tumor thrombosis"],"paddingInner":0.23,"paddingOuter":0.185},"axis":{"labels":false,"ticks":false}},
       "y":{"field":"lo","type":"quantitative","title":"CBX3  expression (log2)","scale":{"domain":[11.67,13.91],"nice":false,"zero":false},"axis":{"values":[12,12.5,13,13.5],"tickCount":10,"format":".1f","labelFontSize":12,"titleFontSize":12}},
       "y2":{"field":"hi"}}},
     {"data":{"name":"dBox"},"mark":{"type":"bar","stroke":"#333","strokeWidth":0.7},
      "encoding":{"x":{"field":"grp","type":"nominal"},"y":{"field":"q1","type":"quantitative"},"y2":{"field":"q3"},
       "color":{"field":"grp","type":"nominal","scale":{"domain":["Nomal liver","HCC","portal vein tumor thrombosis"],"range":["#1F7ED6","#F59F1A","#21A321"]},
        "legend":{"title":null,"orient":"none","legendX":-16,"legendY":217,"direction":"vertical"}}}},
     {"data":{"name":"dBox"},"mark":{"type":"bar","fillOpacity":0,"stroke":"#222","strokeWidth":1},
      "encoding":{"x":{"field":"grp","type":"nominal"},"y":{"field":"md","type":"quantitative"},"y2":{"field":"md"}}},
     {"data":{"name":"dOut"},"mark":{"type":"circle","color":"#222","size":35,"opacity":1},
      "encoding":{"x":{"field":"grp","type":"nominal"},"y":{"field":"v","type":"quantitative"}}},
     {"data":{"name":"dSig"},"mark":{"type":"text","color":"#555","fontSize":12,"baseline":"middle","dy":3},
      "encoding":{"x":{"field":"grp","type":"nominal"},"y":{"datum":13.96},"text":{"field":"s"}}}
    ]},
   {"width":35,"height":210,"data":{"values":[]},"mark":"point","title":{"text":"e","anchor":"start","frame":"group","dx":27,"offset":16,"font":"Liberation Sans","fontWeight":"bold","fontSize":20}},
   {"width":187,"height":210,"title":{"text":"GSE54238","offset":12},
    "layer":[
     {"data":{"name":"eBox"},"mark":{"type":"rule","color":"#555"},
      "encoding":{
       "x":{"field":"grp","type":"nominal","title":null,"scale":{"domain":["Nomal liver","cirrhotic liver","low-grade dysplastic liver","high-grade dysplastic liver","HCC"],"paddingInner":0.22,"paddingOuter":0.32},"axis":{"labels":false,"ticks":false}},
       "y":{"field":"lo","type":"quantitative","title":"CBX3  expression (log2)","scale":{"domain":[8.82,13.52],"nice":false,"zero":false},"axis":{"values":[9,10,11,12],"format":"d","labelFontSize":12,"titleFontSize":10}},
       "y2":{"field":"hi"}}},
     {"data":{"name":"eBox"},"mark":{"type":"bar","stroke":"#333","strokeWidth":0.7},
      "encoding":{"x":{"field":"grp","type":"nominal"},"y":{"field":"q1","type":"quantitative"},"y2":{"field":"q3"},
       "color":{"field":"grp","type":"nominal","scale":{"domain":["Nomal liver","cirrhotic liver","low-grade dysplastic liver","high-grade dysplastic liver","HCC"],"range":["#1F7ED6","#F59F1A","#21A321","#E8271E","#B98AE0"]},"legend":null}}},
     {"data":{"name":"eBox"},"mark":{"type":"bar","fillOpacity":0,"stroke":"#222","strokeWidth":1},
      "encoding":{"x":{"field":"grp","type":"nominal"},"y":{"field":"md","type":"quantitative"},"y2":{"field":"md"}}},
     {"data":{"name":"eOut"},"mark":{"type":"circle","color":"#222","size":35,"opacity":1},
      "encoding":{"x":{"field":"grp","type":"nominal"},"y":{"field":"v","type":"quantitative"}}}
    ]}
  ],
  "spacing":0,"bounds":"flush","align":"each",
  "resolve":{"scale":{"color":"independent"},"legend":{"color":"independent"}}
 },
 {
  "concat":[
   {"width":10,"height":38,"data":{"values":[]},"mark":"point","title":{"text":"f","anchor":"start","frame":"group","dx":-20,"offset":3,"font":"Liberation Sans","fontWeight":"bold","fontSize":20}},
   {"width":294,"height":38,"title":{"text":"Pearsons'r= 0.68, p<0.001","fontSize":13,"offset":5},
    "data":{"name":"fTop"},"mark":{"type":"rect","fill":"#21AE79","stroke":"#222","strokeWidth":0.6},
    "encoding":{"x":{"field":"s","type":"quantitative","scale":{"domain":[9.58,14.53],"nice":false,"zero":false},"axis":null},"x2":{"field":"e"},
     "y":{"field":"n","type":"quantitative","scale":{"domain":[0,28],"nice":false},"axis":null},"y2":{"datum":0}}},
   {"width":55,"height":38,"data":{"values":[]},"mark":"point"},
   {"width":39,"height":38,"data":{"values":[]},"mark":"point","title":{"text":"g","anchor":"start","frame":"group","dx":10,"offset":3,"font":"Liberation Sans","fontWeight":"bold","fontSize":20}},
   {"width":297,"height":38,"title":{"text":"Pearsons'r= 0.77, p<0.001","fontSize":13,"offset":5},
    "data":{"name":"gTop"},"mark":{"type":"rect","fill":"#21AE79","stroke":"#222","strokeWidth":0.6},
    "encoding":{"x":{"field":"s","type":"quantitative","scale":{"domain":[8.65,14.65],"nice":false,"zero":false},"axis":null},"x2":{"field":"e"},
     "y":{"field":"n","type":"quantitative","scale":{"domain":[0,29],"nice":false},"axis":null},"y2":{"datum":0}}},
   {"width":55,"height":38,"data":{"values":[]},"mark":"point"},
   {"width":10,"height":195,"data":{"values":[]},"mark":"point","title":{"text":"h","orient":"bottom","anchor":"start","frame":"group","dx":-17,"offset":24,"font":"Liberation Sans","fontWeight":"bold","fontSize":20}},
   {"width":294,"height":195,"view":{"stroke":"#555","strokeWidth":1},
    "layer":[
     {"data":{"name":"fPts"},"mark":{"type":"circle","size":38,"fill":"#666","fillOpacity":0.5,"stroke":"#222","strokeOpacity":0.5,"strokeWidth":0.6},
      "encoding":{"x":{"field":"c","type":"quantitative","scale":{"domain":[9.58,14.53],"nice":false,"zero":false},"axis":{"values":[10,11,12,13,14],"format":"d","title":"CBX3","titleFontSize":13,"labelFontSize":12,"titlePadding":6}},
       "y":{"field":"k","type":"quantitative","scale":{"domain":[1.67,15.47],"nice":false,"zero":false},"axis":{"values":[5,10,15],"format":"d","title":"Ki67","titleFontSize":13,"labelFontSize":12}}}},
     {"data":{"name":"fLine"},"mark":{"type":"line","color":"#2E2C6E","strokeWidth":1.3},
      "encoding":{"x":{"field":"c","type":"quantitative"},"y":{"field":"k","type":"quantitative"}}}
    ]},
   {"width":55,"height":195,"data":{"name":"fRh"},"mark":{"type":"rect","fill":"#F27B12","stroke":"#222","strokeWidth":0.6},
    "encoding":{"y":{"field":"s","type":"quantitative","scale":{"domain":[1.67,15.47],"nice":false,"zero":false},"axis":null},"y2":{"field":"e"},
     "x":{"field":"n","type":"quantitative","scale":{"domain":[0,28],"nice":false},"axis":null},"x2":{"datum":0}}},
   {"width":39,"height":195,"data":{"values":[]},"mark":"point","title":{"text":"i","orient":"bottom","anchor":"start","frame":"group","dx":3,"offset":24,"font":"Liberation Sans","fontWeight":"bold","fontSize":20}},
   {"width":297,"height":195,"view":{"stroke":"#555","strokeWidth":1},
    "layer":[
     {"data":{"name":"gPts"},"mark":{"type":"circle","size":38,"fill":"#666","fillOpacity":0.5,"stroke":"#222","strokeOpacity":0.5,"strokeWidth":0.6},
      "encoding":{"x":{"field":"c","type":"quantitative","scale":{"domain":[8.65,14.65],"nice":false,"zero":false},"axis":{"values":[9,10,11,12,13,14],"format":"d","title":"CBX3","titleFontSize":13,"labelFontSize":12,"titlePadding":6}},
       "y":{"field":"p","type":"quantitative","scale":{"domain":[1.67,15.54],"nice":false,"zero":false},"axis":{"values":[5,10,15],"format":"d","title":"PCNA","titleFontSize":13,"labelFontSize":12}}}},
     {"data":{"name":"gLine"},"mark":{"type":"line","color":"#2E2C6E","strokeWidth":1.3},
      "encoding":{"x":{"field":"c","type":"quantitative"},"y":{"field":"p","type":"quantitative"}}}
    ]},
   {"width":55,"height":195,"data":{"name":"gRh"},"mark":{"type":"rect","fill":"#F27B12","stroke":"#222","strokeWidth":0.6},
    "encoding":{"y":{"field":"s","type":"quantitative","scale":{"domain":[1.67,15.54],"nice":false,"zero":false},"axis":null},"y2":{"field":"e"},
     "x":{"field":"n","type":"quantitative","scale":{"domain":[0,28],"nice":false},"axis":null},"x2":{"datum":0}}}
  ],
  "columns":6,"spacing":{"row":1,"column":2},"bounds":"flush","align":"each"
 },
 {
  "concat":[
   {"width":13,"height":154,"data":{"values":[]},"mark":"point"},
   {"width":352,"height":154,"title":{"text":"LEE-LIVER-CANCER-SURVIVAL-UP","fontSize":12,"offset":6},
    "layer":[
     {"data":{"name":"hCurve"},"mark":{"type":"line","color":"#6CCB1F","strokeWidth":2.5},
      "encoding":{"x":{"field":"r","type":"quantitative","scale":{"domain":[0,100],"nice":false,"zero":false},"axis":null},
       "y":{"field":"es","type":"quantitative","scale":{"domain":[-0.835,0.04],"nice":false,"zero":false},"axis":{"values":[-0.8,-0.7,-0.6,-0.5,-0.4,-0.3,-0.2,-0.1,0],"tickCount":20,"labelExpr":"replace(format(datum.value,'.1f'),'\u2212','-')","labelOverlap":false,"title":"Enrichment Score (ES)","titleFontSize":12,"labelFontSize":13,"titlePadding":3}}}},
     {"data":{"values":[{}]},"mark":{"type":"rule","color":"#999","strokeWidth":1},"encoding":{"y":{"datum":0,"type":"quantitative"}}},
     {"data":{"values":[{}]},"mark":{"type":"text","align":"left","baseline":"middle","fontSize":13,"color":"#222"},"encoding":{"x":{"datum":67.9},"y":{"datum":-0.114},"text":{"value":"NES=-1.81"}}},
     {"data":{"values":[{}]},"mark":{"type":"text","align":"left","baseline":"middle","fontSize":13,"color":"#222"},"encoding":{"x":{"datum":67.9},"y":{"datum":-0.193},"text":{"value":"FDR=0.0"}}},
     {"data":{"values":[{}]},"mark":{"type":"text","align":"left","baseline":"middle","fontSize":13,"color":"#222"},"encoding":{"x":{"datum":67.9},"y":{"datum":-0.273},"text":{"value":"P value=0.0"}}}
    ]},
   {"width":49,"height":154,"data":{"values":[]},"mark":"point"},
   {"width":354,"height":154,"title":{"text":"LEE-LIVER-CANCER-SURVIVAL-DN","fontSize":12,"offset":6},
    "layer":[
     {"data":{"name":"iCurve"},"mark":{"type":"line","color":"#6CCB1F","strokeWidth":2.5},
      "encoding":{"x":{"field":"r","type":"quantitative","scale":{"domain":[0,100],"nice":false,"zero":false},"axis":null},
       "y":{"field":"es","type":"quantitative","scale":{"domain":[-0.019,0.648],"nice":false,"zero":false},"axis":{"values":[0,0.1,0.2,0.3,0.4,0.5,0.6],"tickCount":20,"format":".1f","labelOverlap":false,"title":"Enrichment Score (ES)","titleFontSize":12,"labelFontSize":13,"titlePadding":3}}}},
     {"data":{"values":[{}]},"mark":{"type":"rule","color":"#999","strokeWidth":1},"encoding":{"y":{"datum":0,"type":"quantitative"}}},
     {"data":{"values":[{}]},"mark":{"type":"text","align":"left","baseline":"middle","fontSize":13,"color":"#222"},"encoding":{"x":{"datum":69.5},"y":{"datum":0.518},"text":{"value":"NES=1.99"}}},
     {"data":{"values":[{}]},"mark":{"type":"text","align":"left","baseline":"middle","fontSize":13,"color":"#222"},"encoding":{"x":{"datum":69.5},"y":{"datum":0.457},"text":{"value":"FDR=0.0"}}},
     {"data":{"values":[{}]},"mark":{"type":"text","align":"left","baseline":"middle","fontSize":13,"color":"#222"},"encoding":{"x":{"datum":69.5},"y":{"datum":0.397},"text":{"value":"P value=0.0"}}}
    ]},
   {"width":13,"height":51,"data":{"values":[]},"mark":"point"},
   {"width":352,"height":51,"view":{"stroke":"#888","strokeWidth":0.8},"data":{"name":"hHits"},"mark":{"type":"rule","color":"#111","strokeWidth":1},
    "encoding":{"x":{"field":"r","type":"quantitative","scale":{"domain":[0,100],"nice":false,"zero":false},"axis":null},"y":{"datum":0,"type":"quantitative","scale":{"domain":[0,1]},"axis":null},"y2":{"datum":0.93}}},
   {"width":49,"height":51,"data":{"values":[]},"mark":"point"},
   {"width":354,"height":51,"view":{"stroke":"#888","strokeWidth":0.8},"data":{"name":"iHits"},"mark":{"type":"rule","color":"#111","strokeWidth":1},
    "encoding":{"x":{"field":"r","type":"quantitative","scale":{"domain":[0,100],"nice":false,"zero":false},"axis":null},"y":{"datum":0,"type":"quantitative","scale":{"domain":[0,1]},"axis":null},"y2":{"datum":0.93}}},
   {"width":13,"height":13,"data":{"values":[]},"mark":"point"},
   {"width":352,"height":13,"view":{"stroke":"#888","strokeWidth":0.8},"data":{"name":"hBar"},"mark":{"type":"rect"},
    "encoding":{"x":{"field":"s","type":"quantitative","scale":{"domain":[0,100],"nice":false,"zero":false},"axis":{"values":[7.1,88],"labelExpr":"datum.value < 50 ? 'CBX3 high' : 'CBX3 low'","ticks":false,"domain":false,"labelFontSize":13,"labelPadding":8,"title":null,"labelFlush":false}},"x2":{"field":"e"},
     "y":{"datum":0,"type":"quantitative","scale":{"domain":[0,1]},"axis":null},"y2":{"datum":1},
     "color":{"field":"sc","type":"quantitative","scale":{"domain":[-1,-0.8,-0.6,-0.3,0.05,0.3,0.55,0.7,0.85,1],"range":["#0E0E62","#2A2AB0","#6565E0","#CACAF0","#F3F1FA","#F6C8E8","#F47C80","#F25A66","#EE3A3A","#E8141C"]},"legend":null}}},
   {"width":49,"height":13,"data":{"values":[]},"mark":"point"},
   {"width":354,"height":13,"view":{"stroke":"#888","strokeWidth":0.8},"data":{"name":"iBar"},"mark":{"type":"rect"},
    "encoding":{"x":{"field":"s","type":"quantitative","scale":{"domain":[0,100],"nice":false,"zero":false},"axis":{"values":[10.2,88.4],"labelExpr":"datum.value < 50 ? 'CBX3 high' : 'CBX3 low'","ticks":false,"domain":false,"labelFontSize":13,"labelPadding":8,"title":null,"labelFlush":false}},"x2":{"field":"e"},
     "y":{"datum":0,"type":"quantitative","scale":{"domain":[0,1]},"axis":null},"y2":{"datum":1},
     "color":{"field":"sc","type":"quantitative","scale":{"domain":[-1,-0.8,-0.6,-0.3,0.05,0.3,0.55,0.7,0.85,1],"range":["#0E0E62","#2A2AB0","#6565E0","#CACAF0","#F3F1FA","#F6C8E8","#F47C80","#F25A66","#EE3A3A","#E8141C"]},"legend":null}}}
  ],
  "columns":4,"spacing":0,"bounds":"flush","align":"each",
  "resolve":{"scale":{"color":"independent"},"legend":{"color":"independent"}}
 }
]
}
